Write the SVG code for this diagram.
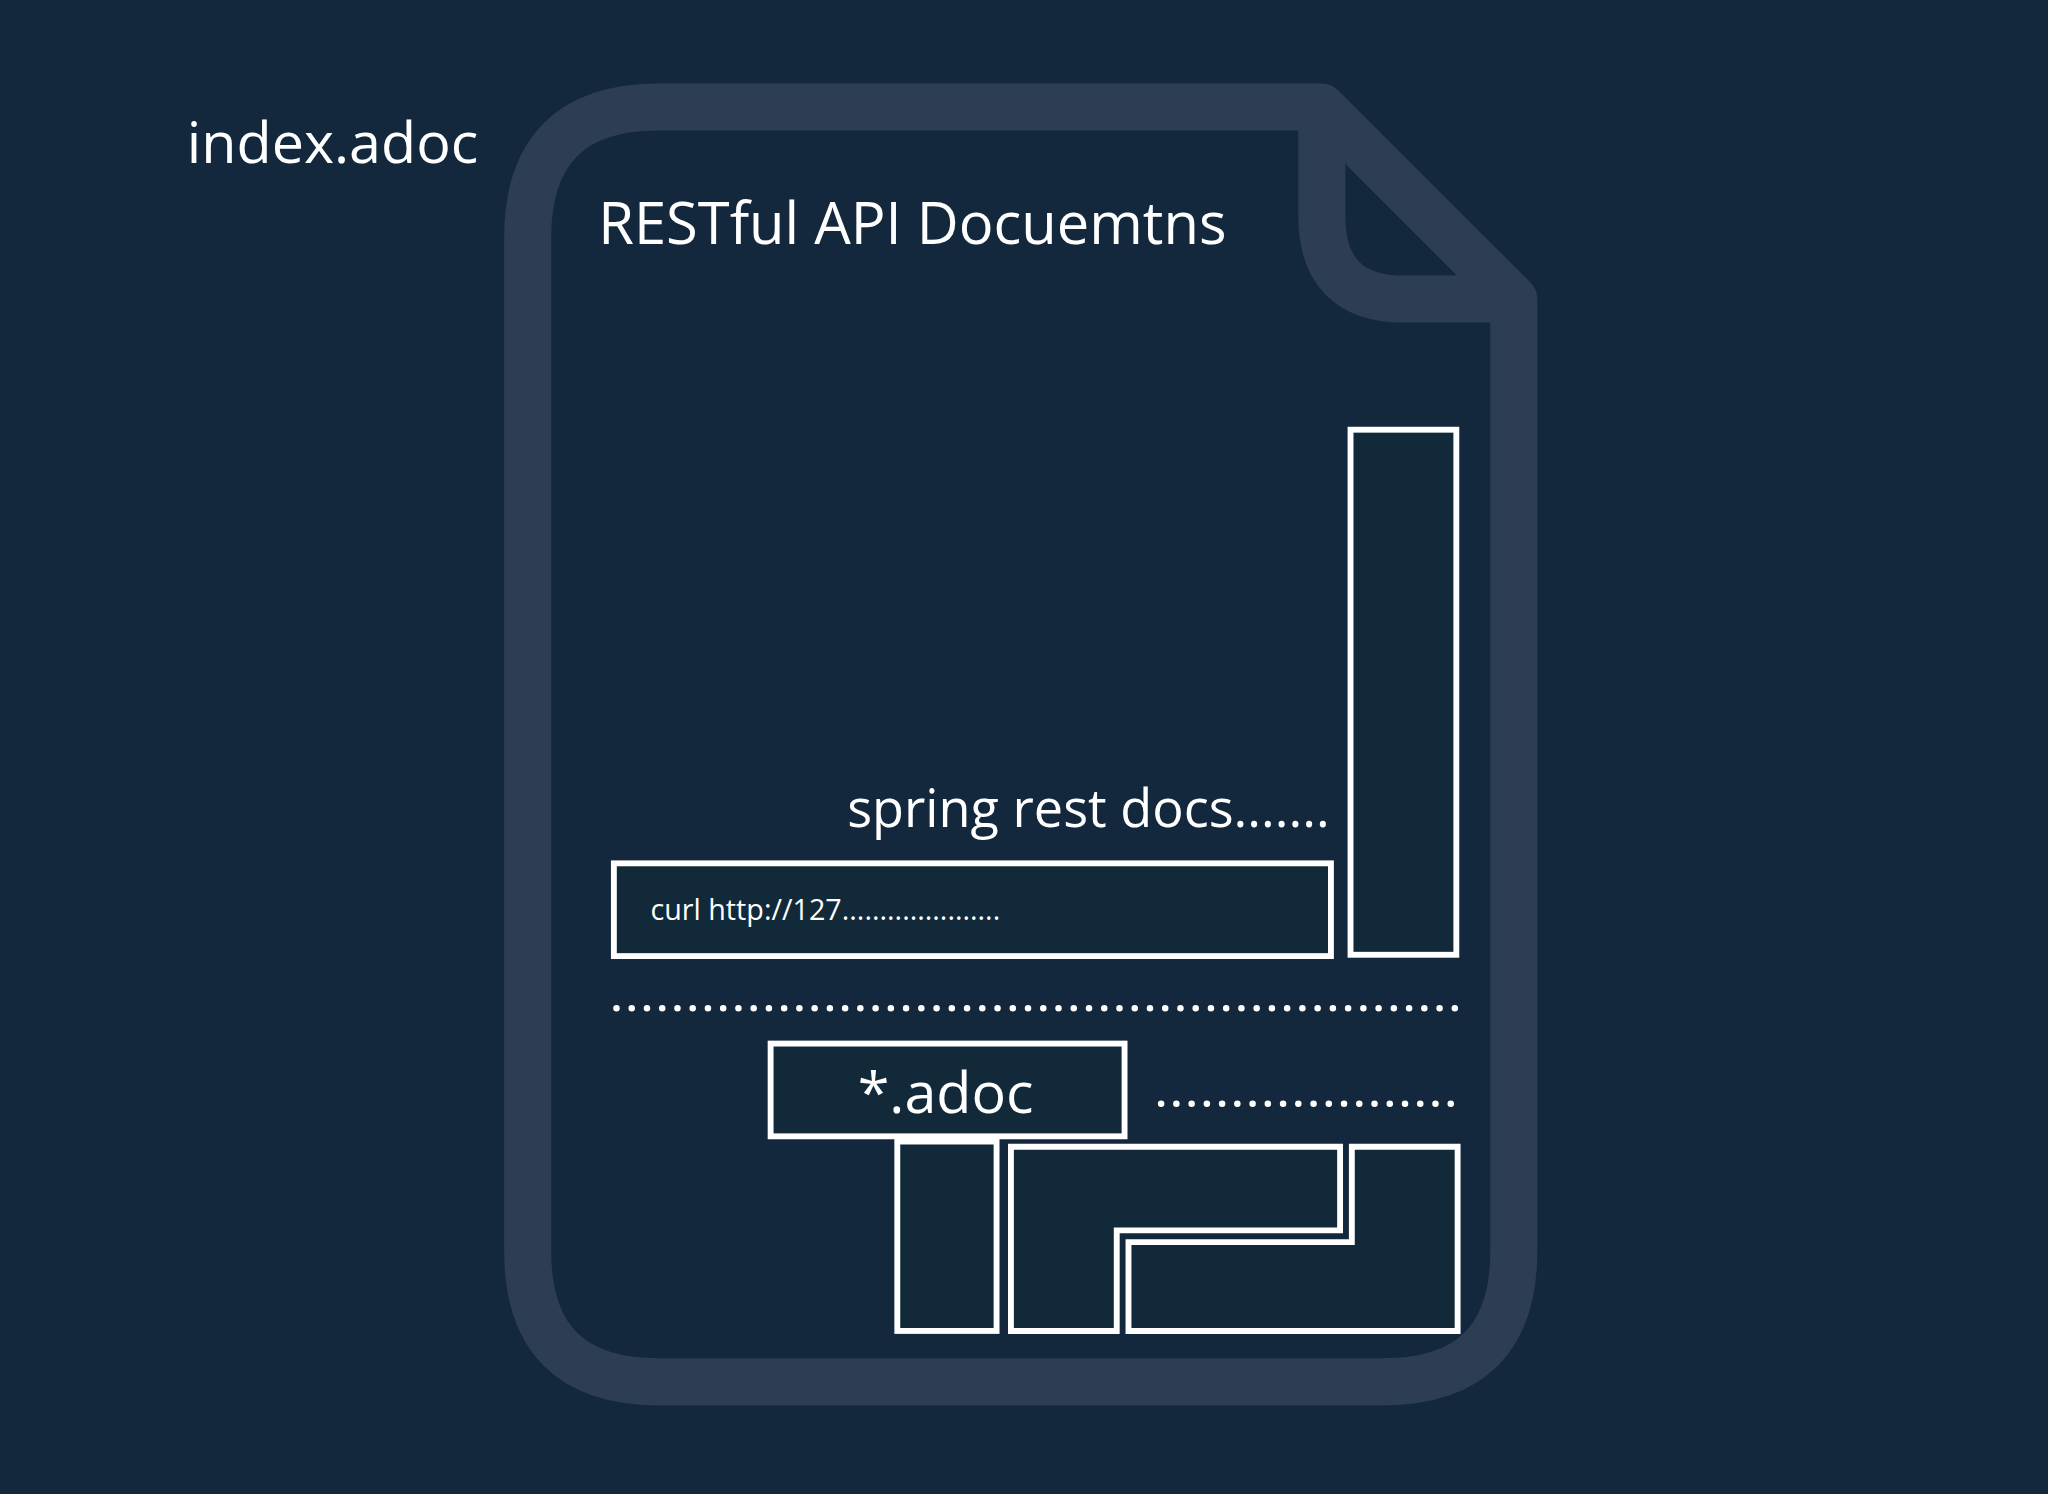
<svg xmlns="http://www.w3.org/2000/svg" width="2048" height="1494" viewBox="0 0 2048 1494">
<style>
.box{fill:#12293a;stroke:#fff;stroke-width:4.5}
.t{fill:#fff;font-family:"Open Sans","Noto Sans",sans-serif}
.dots{stroke:#fff;stroke-width:5;stroke-linecap:round;stroke-dasharray:0 11.67;fill:none}
</style>
<rect width="2048" height="1494" fill="#13283d"/>
<g transform="scale(1.30612)">
<g id="document">
<path d="M404 182 Q404 82 504 82 H1012 L1159 229 V958 Q1159 1058 1059 1058 H504 Q404 1058 404 958 Z" fill="#13283d" stroke="#2d3e54" stroke-width="36" stroke-linejoin="round"/>
<path d="M1012 82 V165 Q1012 229 1075 229 H1159" fill="none" stroke="#2d3e54" stroke-width="36" stroke-linejoin="round"/>
</g>
<g id="labels">
<text class="t" x="143" y="125" font-size="44">index.adoc</text>
<text class="t" x="458" y="187" font-size="44.3">RESTful API Docuemtns</text>
<text class="t" x="1018" y="633" font-size="40" text-anchor="end">spring rest docs.......</text>
</g>
<g id="tall-column"><rect class="box" x="1034" y="329" width="81" height="402"/></g>
<g id="curl-box"><rect class="box" x="470" y="661" width="549" height="71"/>
<text class="t" x="498" y="704" font-size="22">curl http://127.....................</text></g>
<g id="adoc-box"><rect class="box" x="590" y="799" width="271" height="71"/>
<text class="t" x="724" y="852" font-size="44" text-anchor="middle">*.adoc</text></g>
<g id="small-column"><rect class="box" x="687" y="874" width="76" height="145"/></g>
<g id="l-shape-1"><path class="box" d="M774 878 H1026 V942 H855 V1019 H774 Z"/></g>
<g id="l-shape-2"><path class="box" d="M1035 878 H1116 V1019 H864 V951 H1035 Z"/></g>
<g id="connectors">
<line class="dots" x1="472" y1="772" x2="1115" y2="772"/>
<line class="dots" x1="889" y1="845" x2="1115" y2="845"/>
</g>
</g>
</svg>
